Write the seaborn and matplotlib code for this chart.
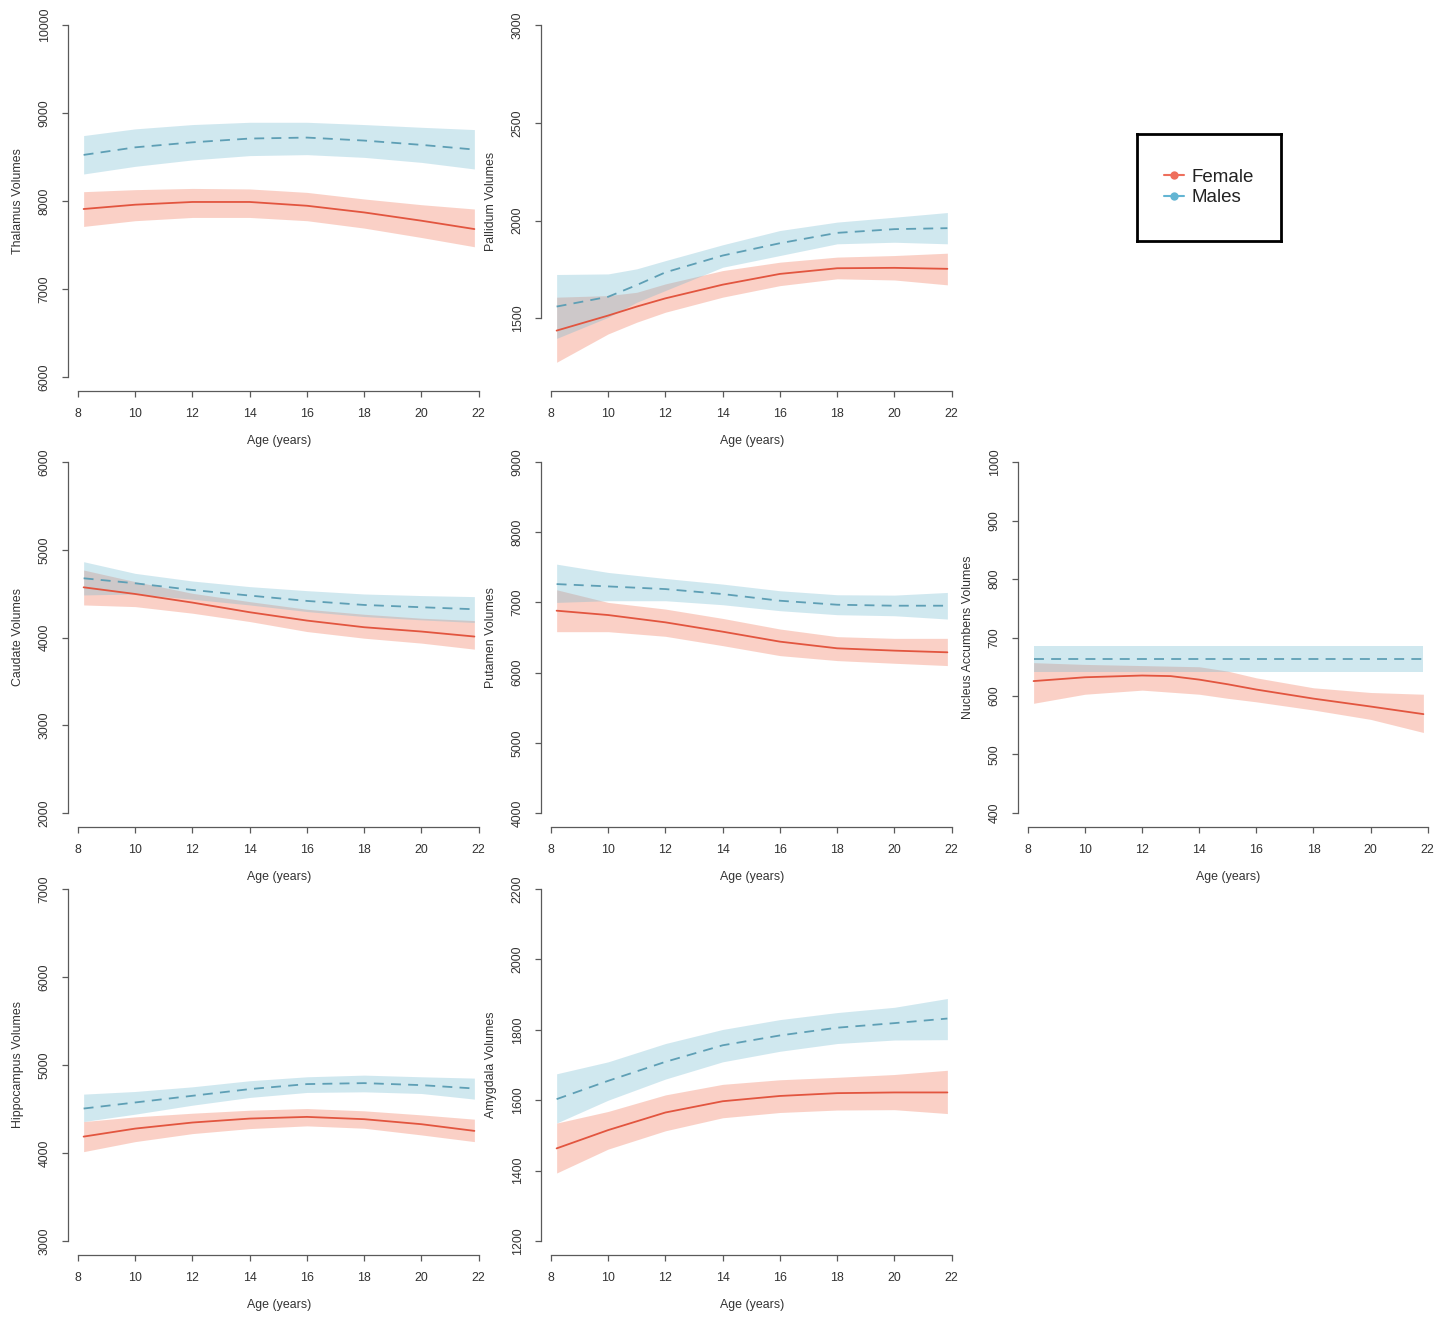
import numpy as np
import pandas as pd
import matplotlib
matplotlib.use("Agg")
import matplotlib.pyplot as plt
from matplotlib.lines import Line2D
import seaborn as sns

sns.set_style("white")
plt.rcParams['font.family'] = ['Liberation Sans', 'DejaVu Sans']

# ---------------- data ----------------
AGE = [8.2, 10, 12, 14, 16, 18, 20, 21.85]
AGE_PALL = [8.2, 10, 11, 12, 14, 16, 18, 20, 21.85]
AGE_NACC = [8.2, 10, 12, 13, 14, 15, 16, 18, 20, 21.85]

# Thalamus
thal_m = [8524, 8610, 8667, 8710, 8721, 8687, 8638, 8585]
thal_m_hi = [8744, 8820, 8869, 8895, 8895, 8869, 8838, 8812]
thal_m_lo = [8307, 8394, 8467, 8516, 8527, 8496, 8439, 8364]
thal_f = [7909, 7958, 7989, 7989, 7946, 7870, 7776, 7681]
thal_f_hi = [8106, 8129, 8143, 8137, 8098, 8023, 7958, 7909]
thal_f_lo = [7711, 7776, 7813, 7813, 7776, 7692, 7585, 7480]

# Pallidum
pall_m = [1560, 1610, 1670, 1735, 1821, 1884, 1937, 1956, 1961]
pall_m_hi = [1724, 1727, 1753, 1795, 1876, 1949, 1992, 2017, 2041]
pall_m_lo = [1397, 1505, 1582, 1642, 1761, 1821, 1881, 1889, 1881]
pall_f = [1437, 1514, 1560, 1602, 1672, 1727, 1756, 1758, 1753]
pall_f_hi = [1608, 1616, 1633, 1676, 1744, 1787, 1813, 1821, 1833]
pall_f_lo = [1275, 1420, 1480, 1531, 1608, 1667, 1702, 1696, 1671]

# Caudate
caud_m = [4675, 4618, 4542, 4478, 4417, 4371, 4345, 4322]
caud_m_hi = [4864, 4731, 4644, 4580, 4534, 4496, 4478, 4466]
caud_m_lo = [4485, 4496, 4436, 4371, 4296, 4239, 4201, 4171]
caud_f = [4572, 4496, 4398, 4288, 4193, 4117, 4068, 4011]
caud_f_hi = [4769, 4637, 4504, 4409, 4322, 4265, 4220, 4193]
caud_f_lo = [4371, 4352, 4277, 4182, 4068, 3992, 3936, 3867]

# Putamen
put_m = [7261, 7228, 7190, 7119, 7024, 6967, 6953, 6953]
put_m_hi = [7545, 7427, 7341, 7261, 7166, 7109, 7104, 7142]
put_m_lo = [7000, 7024, 7024, 6967, 6882, 6825, 6810, 6763]
put_f = [6882, 6820, 6716, 6583, 6441, 6346, 6313, 6289]
put_f_hi = [7180, 7000, 6905, 6772, 6621, 6512, 6488, 6488]
put_f_lo = [6583, 6583, 6517, 6384, 6242, 6171, 6133, 6100]

# Nucleus Accumbens
nacc_m = [663.5, 663.5, 663.5, 663.5, 663.5, 663.5, 663.5, 663.5, 663.5, 663.5]
nacc_m_hi = [686, 686, 686, 686, 686, 686, 686, 686, 686, 686]
nacc_m_lo = [641, 641, 641, 641, 641, 641, 641, 641, 641, 641]
nacc_f = [625.5, 632, 635, 634, 628, 620, 611, 595.5, 582, 569]
nacc_f_hi = [657, 654, 652, 651, 650, 642.5, 631, 614, 606, 603]
nacc_f_lo = [587.5, 603, 610, 606.5, 603, 596, 590, 576, 560, 537.6]

# Hippocampus
hipp_m = [4505, 4574, 4650, 4726, 4783, 4794, 4771, 4733]
hipp_m_hi = [4669, 4699, 4752, 4821, 4866, 4885, 4866, 4851]
hipp_m_lo = [4357, 4441, 4543, 4631, 4688, 4695, 4676, 4612]
hipp_f = [4186, 4277, 4346, 4391, 4410, 4384, 4327, 4251]
hipp_f_hi = [4357, 4410, 4452, 4486, 4505, 4479, 4433, 4384]
hipp_f_lo = [4015, 4129, 4220, 4277, 4308, 4281, 4205, 4129]

# Amygdala
amyg_m = [1603, 1655, 1709, 1756, 1784, 1806, 1819, 1832]
amyg_m_hi = [1675, 1709, 1761, 1801, 1829, 1849, 1864, 1889]
amyg_m_lo = [1535, 1600, 1660, 1709, 1739, 1761, 1771, 1772]
amyg_f = [1463, 1515, 1565, 1597, 1612, 1620, 1622, 1622]
amyg_f_hi = [1535, 1568, 1615, 1645, 1658, 1665, 1673, 1685]
amyg_f_lo = [1393, 1461, 1513, 1550, 1565, 1572, 1573, 1562]

X_TICKS = [8, 10, 12, 14, 16, 18, 20, 22]
SEX_LABELS = ["Female", "Males"]

panels = [
    # (row, col, label, ages, f, f_lo, f_hi, m, m_lo, m_hi, ylim, yticks)
    (0, 0, "Thalamus Volumes", AGE, thal_f, thal_f_lo, thal_f_hi, thal_m, thal_m_lo, thal_m_hi,
     (6000, 10000), [6000, 7000, 8000, 9000, 10000]),
    (0, 1, "Pallidum Volumes", AGE_PALL, pall_f, pall_f_lo, pall_f_hi, pall_m, pall_m_lo, pall_m_hi,
     (1200, 3000), [1500, 2000, 2500, 3000]),
    (1, 0, "Caudate Volumes", AGE, caud_f, caud_f_lo, caud_f_hi, caud_m, caud_m_lo, caud_m_hi,
     (2000, 6000), [2000, 3000, 4000, 5000, 6000]),
    (1, 1, "Putamen Volumes", AGE, put_f, put_f_lo, put_f_hi, put_m, put_m_lo, put_m_hi,
     (4000, 9000), [4000, 5000, 6000, 7000, 8000, 9000]),
    (1, 2, "Nucleus Accumbens Volumes", AGE_NACC, nacc_f, nacc_f_lo, nacc_f_hi, nacc_m, nacc_m_lo, nacc_m_hi,
     (400, 1000), [400, 500, 600, 700, 800, 900, 1000]),
    (2, 0, "Hippocampus Volumes", AGE, hipp_f, hipp_f_lo, hipp_f_hi, hipp_m, hipp_m_lo, hipp_m_hi,
     (3000, 7000), [3000, 4000, 5000, 6000, 7000]),
    (2, 1, "Amygdala Volumes", AGE, amyg_f, amyg_f_lo, amyg_f_hi, amyg_m, amyg_m_lo, amyg_m_hi,
     (1200, 2200), [1200, 1400, 1600, 1800, 2000, 2200]),
]

# ---------------- style ----------------
W, H = 1451, 1317
COLS = [(68, 490), (541, 963), (1018, 1439)]
ROWS = [(11, 391), (448, 827), (875, 1255)]

F_BAND = (0.94, 0.45, 0.33)
M_BAND = (0.45, 0.73, 0.82)
BAND_ALPHA = 0.33
F_LINE = "#E2553F"
M_LINE = "#5E9FB5"
AX_COL = "#5a5a5a"
TXT_COL = "#333333"
FS = 8.9

fig = plt.figure(figsize=(W / 100, H / 100), dpi=100)
fig.patch.set_facecolor("white")


def axes_at(col, row):
    x0, x1 = COLS[col]
    y0, y1 = ROWS[row]
    return fig.add_axes([x0 / W, 1 - y1 / H, (x1 - x0) / W, (y1 - y0) / H])


for (r, c, lab, ages, f, flo, fhi, m, mlo, mhi, ylim, yticks) in panels:
    ax = axes_at(c, r)
    ax.set_facecolor("none")
    df_f = pd.DataFrame({"Age": ages, "Volume": f, "Sex": "Female"})
    df_m = pd.DataFrame({"Age": ages, "Volume": m, "Sex": "Males"})

    ax.fill_between(ages, flo, fhi, color=F_BAND, alpha=BAND_ALPHA, lw=0)
    sns.lineplot(data=df_f, x="Age", y="Volume", ax=ax, color=F_LINE, lw=1.3,
                 legend=False, errorbar=None)
    ax.fill_between(ages, mlo, mhi, color=M_BAND, alpha=BAND_ALPHA, lw=0)
    sns.lineplot(data=df_m, x="Age", y="Volume", ax=ax, color=M_LINE, lw=1.3,
                 legend=False, errorbar=None)
    ax.lines[-1].set_linestyle((0, (5.5, 4)))

    xr = max(ages) - min(ages)
    ax.set_xlim(min(ages) - 0.04 * xr, max(ages) + 0.04 * xr)
    yr = ylim[1] - ylim[0]
    ax.set_ylim(ylim[0] - 0.04 * yr, ylim[1] + 0.04 * yr)

    ax.set_xticks(X_TICKS)
    ax.set_xticklabels([str(t) for t in X_TICKS])
    ax.set_yticks(yticks)
    ax.set_yticklabels([str(t) for t in yticks], rotation=90, va="center")

    for s in ["top", "right"]:
        ax.spines[s].set_visible(False)
    ax.spines["left"].set_bounds(yticks[0], yticks[-1])
    ax.spines["bottom"].set_bounds(X_TICKS[0], X_TICKS[-1])
    for s in ["left", "bottom"]:
        ax.spines[s].set_color(AX_COL)
        ax.spines[s].set_linewidth(0.9)
    ax.tick_params(axis="both", direction="out", length=4.5, width=0.9,
                   color=AX_COL, labelcolor=TXT_COL, labelsize=FS, pad=8,
                   left=True, bottom=True)

    ax.set_xlabel("Age (years)", fontsize=FS, color=TXT_COL)
    ax.set_ylabel(lab, fontsize=FS, color=TXT_COL)
    wpx = COLS[c][1] - COLS[c][0]
    hpx = ROWS[r][1] - ROWS[r][0]
    ax.yaxis.set_label_coords(-44 / wpx, 0.5)
    ax.xaxis.set_label_coords(0.5, -44 / hpx)

# ---------------- legend ----------------
lx0, lx1, ly0, ly1 = 1137, 1281, 134, 241
lax = fig.add_axes([lx0 / W, 1 - ly1 / H, (lx1 - lx0) / W, (ly1 - ly0) / H])
lax.set_xticks([])
lax.set_yticks([])
for s in lax.spines.values():
    s.set_color("black")
    s.set_linewidth(2.0)
handles = [
    Line2D([0], [0], color="#EE6F5C", lw=1.5, marker="o", markersize=6, markeredgewidth=0),
    Line2D([0], [0], color="#63B5D3", lw=1.5, marker="o", markersize=6, markeredgewidth=0),
]
lax.legend(handles, SEX_LABELS, loc="center", frameon=False, fontsize=13.5,
           handlelength=1.1, handletextpad=0.4, labelspacing=0.2,
           labelcolor="#222222")

fig.savefig("out.png", dpi=100, facecolor="white")
